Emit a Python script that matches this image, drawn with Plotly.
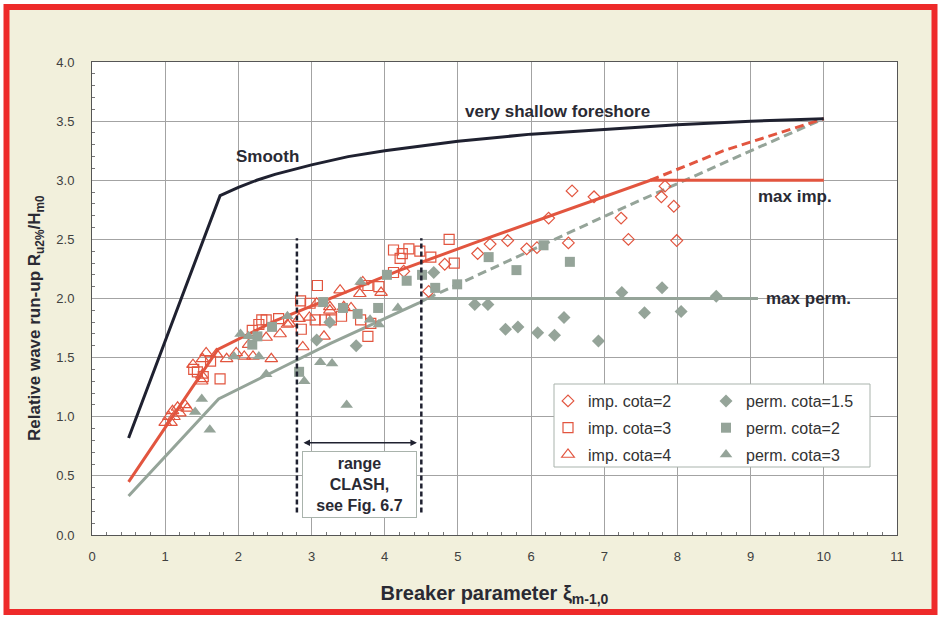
import plotly.graph_objects as go

# ---- design curves (breaker parameter xi vs Ru2%/Hm0) ----
smooth_xi = [0.5, 1.75, 2.0, 2.25, 2.5, 3.0, 3.5, 4.0, 4.5, 5.0, 6.0, 7.0, 8.0, 9.0, 10.0]
smooth_ru = [0.82, 2.87, 2.94, 3.00, 3.05, 3.13, 3.20, 3.25, 3.29, 3.33, 3.39, 3.43, 3.47, 3.50, 3.52]

imp_xi = [0.5, 1.72, 2.5, 3.26, 4.21, 5.31, 6.4, 7.63, 10.0]
imp_ru = [0.45, 1.57, 1.81, 2.0, 2.24, 2.49, 2.73, 3.0, 3.0]
imp_ext_xi = [7.63, 8.63, 10.0]
imp_ext_ru = [3.0, 3.25, 3.52]

perm_xi = [0.5, 1.73, 2.575, 3.26, 4.46, 4.58, 9.1]
perm_ru = [0.33, 1.15, 1.41, 1.62, 1.96, 2.0, 2.0]
perm_ext_xi = [4.58, 5.31, 6.4, 6.95, 9.04, 10.0]
perm_ext_ru = [2.0, 2.21, 2.52, 2.68, 3.26, 3.52]

clash_range = [2.8, 4.5]

# ---- measurements ----
imp2_xi = [4.26, 4.60, 4.82, 5.27, 5.44, 5.68, 5.94, 6.08, 6.24, 6.51, 6.56, 6.86, 7.23, 7.33, 7.78, 7.83, 7.95, 7.99]
imp2_ru = [2.23, 2.06, 2.29, 2.38, 2.46, 2.49, 2.42, 2.43, 2.68, 2.47, 2.91, 2.86, 2.68, 2.50, 2.86, 2.95, 2.78, 2.49]

imp3_xi = [1.39, 1.44, 1.52, 1.62, 1.75, 2.19, 2.28, 2.32, 2.38, 2.55, 2.85, 2.86, 2.98, 3.08, 3.05,
           3.18, 3.27, 3.41, 3.67, 3.77, 3.81, 3.77, 3.92, 4.12, 4.12, 4.21, 4.24, 4.33, 4.48, 4.63, 4.88, 4.95]
imp3_ru = [1.40, 1.38, 1.34, 1.47, 1.32, 1.73, 1.78, 1.82, 1.82, 1.83, 1.98, 1.74, 1.96, 2.11, 1.82,
           1.82, 1.82, 1.85, 1.82, 1.68, 1.79, 2.11, 2.10, 2.22, 2.41, 2.34, 2.38, 2.42, 2.40, 2.35, 2.50, 2.30]

imp4_xi = [1.0, 1.05, 1.08, 1.1, 1.12, 1.17, 1.2, 1.27, 1.3,
           1.38, 1.5, 1.5, 1.51, 1.56, 1.70, 1.84, 1.97, 2.08, 2.14, 2.2, 2.38, 2.45, 2.57, 2.67, 2.70,
           2.83, 2.88, 2.97, 3.07, 3.17, 3.25, 3.25, 3.39, 3.44, 3.54, 3.66, 3.70, 3.95]
imp4_ru = [0.95, 1.0, 0.95, 1.05, 1.0, 1.08, 1.03, 1.1, 1.07,
           1.44, 1.30, 1.35, 1.49, 1.54, 1.53, 1.49, 1.54, 1.51, 1.61, 1.51, 1.67, 1.49, 1.70, 1.78, 1.79,
           1.83, 1.59, 1.84, 1.96, 1.68, 1.90, 1.93, 2.07, 1.93, 1.92, 2.04, 2.14, 2.05]

perm15_xi = [3.07, 3.25, 3.61, 4.67, 5.23, 5.41, 5.65, 5.82, 6.09, 6.32, 6.45, 6.92, 7.24, 7.55, 7.79, 8.05, 8.53]
perm15_ru = [1.65, 1.80, 1.60, 2.22, 1.95, 1.95, 1.74, 1.76, 1.71, 1.69, 1.84, 1.64, 2.05, 1.88, 2.09, 1.89, 2.02]

perm2_xi = [2.19, 2.26, 2.46, 2.83, 3.16, 3.43, 3.63, 3.91, 4.03, 4.30, 4.51, 4.69, 4.99, 5.42, 5.80, 6.17, 6.53]
perm2_ru = [1.61, 1.68, 1.76, 1.38, 1.97, 1.92, 1.87, 1.92, 2.20, 2.15, 2.20, 2.09, 2.12, 2.35, 2.24, 2.45, 2.31]

perm3_xi = [1.41, 1.5, 1.61, 1.94, 2.03, 2.14, 2.28, 2.38, 2.67, 2.90, 3.12, 3.28, 3.48, 3.67, 3.80, 3.92, 4.18]
perm3_ru = [1.04, 1.15, 0.89, 1.51, 1.70, 1.68, 1.51, 1.36, 1.85, 1.30, 1.46, 1.45, 1.10, 2.14, 1.82, 1.78, 1.92]

RED = "#E2553F"
GREY = "#95A499"
DARK = "#1F2130"
TEXT = "#2A2A33"
FONT = "Arial, Liberation Sans, sans-serif"

W, H = 941, 617
ML, MR, MT, MB = 92, 44, 62, 82
PW, PH = W - ML - MR, H - MT - MB


def px2x(px):
    return (px - ML) / PW


def px2y(py):
    return 1 - (py - MT) / PH


fig = go.Figure()

line_common = dict(mode="lines", showlegend=False, hoverinfo="skip")
fig.add_trace(go.Scatter(x=perm_ext_xi, y=perm_ext_ru, line=dict(color=GREY, width=3, dash="9px,5px"), **line_common))
fig.add_trace(go.Scatter(x=imp_ext_xi, y=imp_ext_ru, line=dict(color=RED, width=3, dash="9px,5px"), **line_common))
fig.add_trace(go.Scatter(x=perm_xi, y=perm_ru, line=dict(color=GREY, width=3), **line_common))
fig.add_trace(go.Scatter(x=imp_xi, y=imp_ru, line=dict(color=RED, width=3), **line_common))
fig.add_trace(go.Scatter(x=smooth_xi, y=smooth_ru, line=dict(color=DARK, width=3), **line_common))

series = [
    ("imp. cota=2", imp2_xi, imp2_ru, "diamond-open", RED, 9, "legend"),
    ("imp. cota=3", imp3_xi, imp3_ru, "square-open", RED, 10, "legend"),
    ("imp. cota=4", imp4_xi, imp4_ru, "triangle-up-open", RED, 11, "legend"),
    ("perm. cota=1.5", perm15_xi, perm15_ru, "diamond", GREY, 10, "legend2"),
    ("perm. cota=2", perm2_xi, perm2_ru, "square", GREY, 10, "legend2"),
    ("perm. cota=3", perm3_xi, perm3_ru, "triangle-up", GREY, 11, "legend2"),
]
for name, xs, ys, sym, col, size, leg in series:
    marker = dict(symbol=sym, size=size, color=col)
    if sym.endswith("open"):
        marker["line"] = dict(color=col, width=1.2)
    else:
        marker["line"] = dict(width=0)
    fig.add_trace(go.Scatter(x=xs, y=ys, mode="markers", name=name, marker=marker,
                             legend=leg, legendgroup=name))

# CLASH range markers
for xv in clash_range:
    fig.add_shape(type="line", x0=xv, x1=xv, y0=0.19, y1=2.51, xref="x", yref="y",
                  line=dict(color=DARK, width=2.5, dash="5px,3px"))

shapes_bg = [
    # page background and frame
    dict(type="rect", xref="paper", yref="paper", x0=px2x(6.5), x1=px2x(934.5),
         y0=px2y(612), y1=px2y(7), fillcolor="#F2F0DC", line=dict(width=0), layer="below"),
    dict(type="rect", xref="paper", yref="paper", x0=0, x1=1, y0=0, y1=1,
         fillcolor="white", line=dict(width=0), layer="below"),
    dict(type="rect", xref="paper", yref="paper", x0=px2x(6.5), x1=px2x(934.5),
         y0=px2y(612), y1=px2y(7), fillcolor="rgba(0,0,0,0)", line=dict(color="#EE2A2A", width=6),
         layer="above"),
    # legend box
    dict(type="rect", xref="paper", yref="paper", x0=px2x(554), x1=px2x(870),
         y0=px2y(467), y1=px2y(384), fillcolor="white", line=dict(color="#A9B3AC", width=1),
         layer="above"),
]
for s in shapes_bg:
    fig.add_shape(**s)

ann_font = dict(family=FONT, size=17, color=TEXT, weight="bold")
fig.add_annotation(x=6.36, y=3.585, text="very shallow foreshore", showarrow=False, font=ann_font)
fig.add_annotation(x=2.40, y=3.205, text="Smooth", showarrow=False, font=ann_font)
fig.add_annotation(x=9.60, y=2.86, text="max imp.", showarrow=False, font=ann_font)
fig.add_annotation(x=9.79, y=2.0, text="max perm.", showarrow=False, font=ann_font)

# double arrow spanning the CLASH range
fig.add_annotation(x=4.44, y=0.78, ax=2.87, ay=0.78, xref="x", yref="y", axref="x", ayref="y",
                   text="", showarrow=True, arrowside="end+start", arrowhead=2, arrowsize=1,
                   arrowwidth=1.3, arrowcolor=DARK)
fig.add_annotation(x=3.655, y=0.425, text="range<br>CLASH,<br>see Fig. 6.7", showarrow=False,
                   font=dict(family=FONT, size=16, color=TEXT, weight="bold"),
                   bgcolor="white", bordercolor="#A9B3AC", borderwidth=1, width=111, height=63,
                   align="center")

# y-axis title
fig.add_annotation(xref="paper", yref="paper", x=px2x(36), y=px2y(318), xanchor="center",
                   yanchor="middle", textangle=-90, showarrow=False,
                   text="Relative wave run-up R<sub>u2%</sub>/H<sub>m0</sub>",
                   font=dict(family=FONT, size=17, color=TEXT, weight="bold"))

fig.update_xaxes(range=[0, 11], dtick=1, tick0=0, showgrid=True, gridcolor="#A3A3A3", gridwidth=1,
                 showline=True, linecolor="#555", linewidth=1, mirror=True, zeroline=False,
                 ticks="", ticklabelstandoff=9,
                 tickfont=dict(family=FONT, size=13, color="#404040"),
                 minor=dict(dtick=0.2, ticks="inside", ticklen=3, tickcolor="#777", showgrid=False),
                 title=dict(text="Breaker parameter ξ<sub>m-1,0</sub>", standoff=23,
                            font=dict(family=FONT, size=20, color=TEXT, weight="bold")))
fig.update_yaxes(range=[0, 4], dtick=0.5, tick0=0, tickformat=".1f", showgrid=True,
                 gridcolor="#A3A3A3", gridwidth=1, showline=True, linecolor="#555", linewidth=1,
                 mirror=True, zeroline=False, ticks="", ticklabelstandoff=14,
                 tickfont=dict(family=FONT, size=13, color="#404040"),
                 minor=dict(dtick=0.1, ticks="inside", ticklen=3, tickcolor="#777", showgrid=False))

leg_common = dict(xanchor="left", yanchor="top", bgcolor="rgba(0,0,0,0)", borderwidth=0,
                  font=dict(family=FONT, size=16, color="#333"), traceorder="grouped",
                  tracegroupgap=3, itemwidth=30)
fig.update_layout(
    width=W, height=H,
    margin=dict(l=ML, r=MR, t=MT, b=MB),
    paper_bgcolor="white", plot_bgcolor="white",
    font=dict(family=FONT),
    legend=dict(x=px2x(548), y=px2y(384), **leg_common),
    legend2=dict(x=px2x(706), y=px2y(384), **leg_common),
)

fig.write_html("out.html")
